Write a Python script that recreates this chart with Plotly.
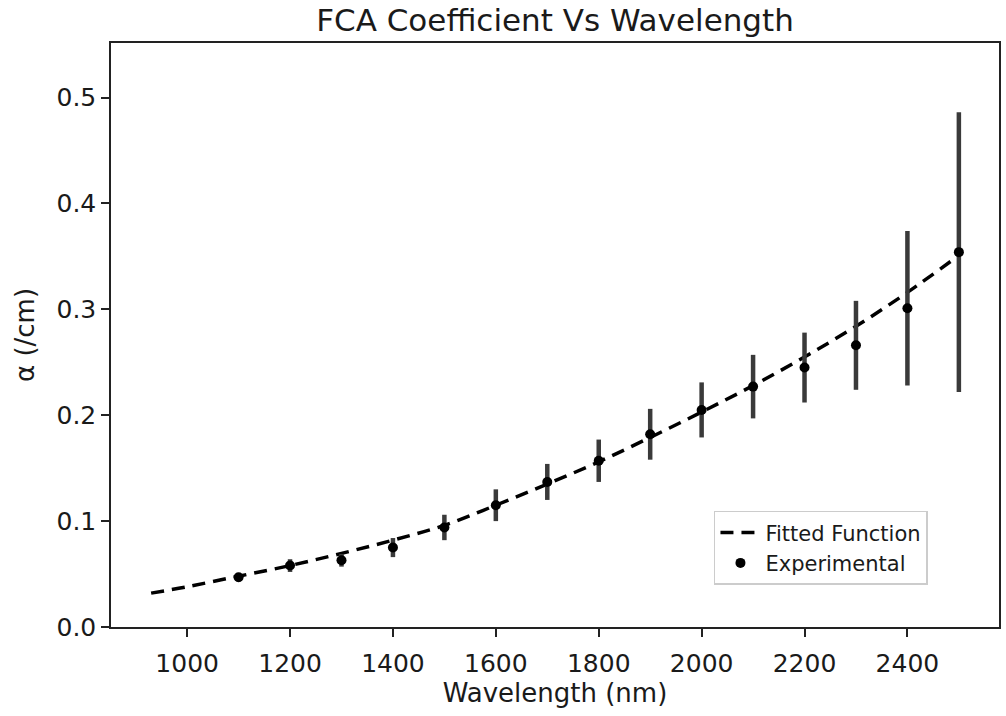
import plotly.graph_objects as go

exp_wavelength = [1100, 1200, 1300, 1400, 1500, 1600, 1700, 1800, 1900, 2000, 2100, 2200, 2300, 2400, 2500]
exp_alpha = [0.047, 0.058, 0.063, 0.075, 0.094, 0.115, 0.137, 0.157, 0.182, 0.205, 0.227, 0.245, 0.266, 0.301, 0.354]
exp_err = [0.004, 0.006, 0.006, 0.009, 0.012, 0.015, 0.017, 0.020, 0.024, 0.026, 0.030, 0.033, 0.042, 0.073, 0.132]

# Fitted function samples
fit_wavelength = [930, 1000, 1100, 1200, 1300, 1400, 1500, 1600, 1700, 1800, 1900, 2000, 2100, 2200, 2300, 2400, 2500]
fit_alpha = [0.032, 0.038, 0.048, 0.058, 0.0695, 0.082, 0.096, 0.115, 0.135, 0.156, 0.179, 0.203, 0.228, 0.255, 0.284, 0.316, 0.351]

x_ticks = [1000, 1200, 1400, 1600, 1800, 2000, 2200, 2400]
y_ticks = [0.0, 0.1, 0.2, 0.3, 0.4, 0.5]

FONT = "DejaVu Sans"
TXT = "#1a1a1a"

fig = go.Figure()
fig.add_trace(go.Scatter(
    x=fit_wavelength, y=fit_alpha, mode="lines", name="Fitted Function",
    line=dict(color="black", width=3.5, dash="13px,8px", shape="spline"),
))
fig.add_trace(go.Scatter(
    x=exp_wavelength, y=exp_alpha, mode="markers", name="Experimental",
    marker=dict(color="black", size=10),
    error_y=dict(type="data", array=exp_err, visible=True, color="#3a3a3a", thickness=4.5, width=0),
))

axis_common = dict(
    showline=True, linecolor="#222222", linewidth=1.5, mirror=True,
    ticks="outside", ticklen=8, tickwidth=1.5, tickcolor="#222222",
    showgrid=False, zeroline=False,
    tickfont=dict(family=FONT, size=25, color=TXT),
)

fig.update_layout(
    width=1006, height=716,
    margin=dict(l=111, r=5, t=43, b=89),
    paper_bgcolor="white", plot_bgcolor="white",
    title=dict(text="FCA Coefficient Vs Wavelength", x=0.5, xref="paper", xanchor="center",
               y=1, yref="paper", yanchor="bottom", pad=dict(b=12),
               font=dict(family=FONT, size=31, color=TXT)),
    xaxis=dict(range=[852, 2578], tickvals=x_ticks, ticktext=[str(v) for v in x_ticks],
               ticklabelstandoff=5,
               title=dict(text="Wavelength (nm)", font=dict(family=FONT, size=26, color=TXT), standoff=6),
               **axis_common),
    yaxis=dict(range=[0, 0.5515], tickvals=y_ticks, tickformat=".1f",
               title=dict(text="α (/cm)", font=dict(family=FONT, size=26, color=TXT), standoff=14),
               **axis_common),
    legend=dict(x=0.92, y=0.072, xanchor="right", yanchor="bottom",
                bgcolor="white", bordercolor="#cccccc", borderwidth=1.5,
                font=dict(family=FONT, size=21, color=TXT),
                itemwidth=40, tracegroupgap=0),
    showlegend=True,
)

fig.write_html("out.html")
